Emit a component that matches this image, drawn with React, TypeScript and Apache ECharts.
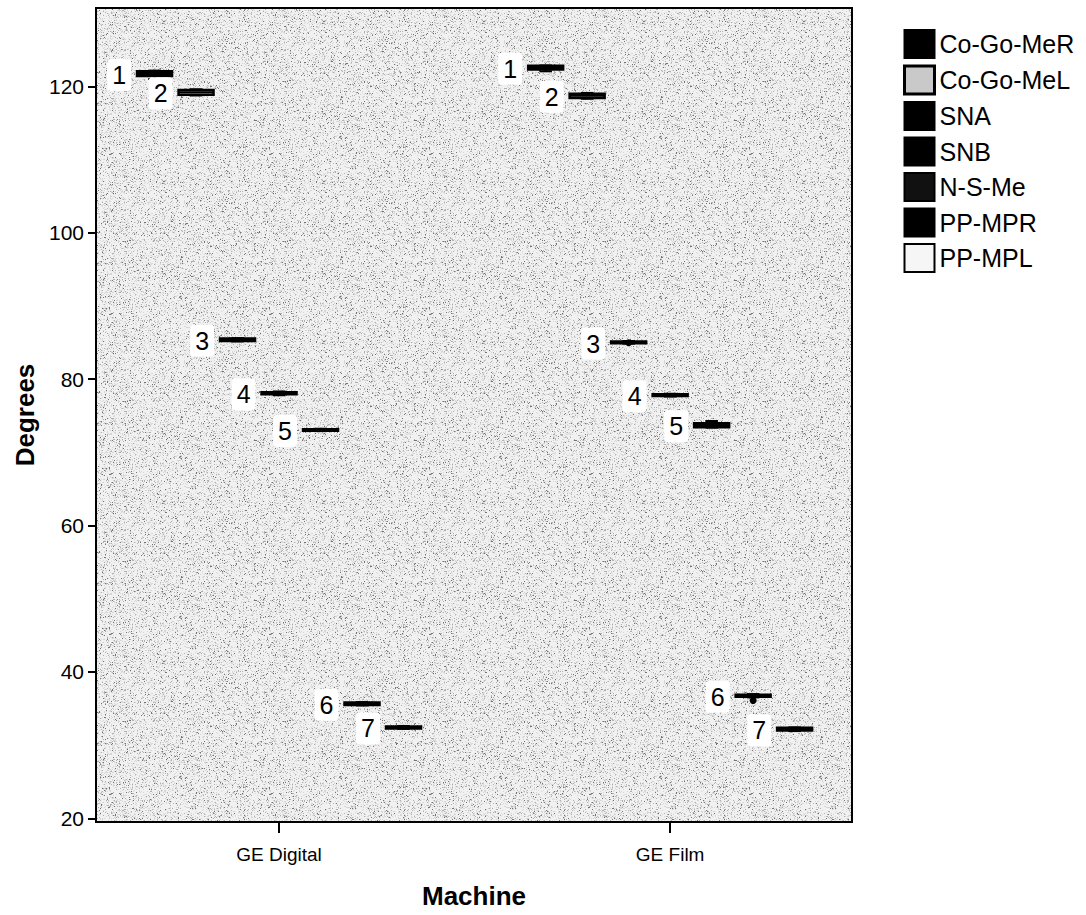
import React, { useEffect, useRef } from "react";
import * as echarts from "echarts";

// ---------- data ----------
const machines = ["GE Digital", "GE Film"];
const variables = ["Co-Go-MeR", "Co-Go-MeL", "SNA", "SNB", "N-S-Me", "PP-MPR", "PP-MPL"];
const yTicks = [20, 40, 60, 80, 100, 120];

// [min, Q1, median, Q3, max] per machine (GE Digital, GE Film)
const coGoMeR = [
  [121.0, 121.4, 121.7, 122.05, 122.15],
  [122.05, 122.3, 122.55, 122.8, 122.85],
];
const coGoMeL = [
  [118.75, 118.85, 119.2, 119.5, 119.6],
  [118.3, 118.4, 118.7, 119.0, 119.1],
];
const sna = [
  [85.15, 85.2, 85.37, 85.55, 85.6],
  [84.85, 84.9, 85.0, 85.15, 85.2],
];
const snb = [
  [77.8, 77.93, 78.05, 78.2, 78.32],
  [77.62, 77.68, 77.8, 77.95, 78.0],
];
const nsMe = [
  [72.9, 72.95, 73.05, 73.17, 73.22],
  [73.38, 73.42, 73.7, 73.98, 74.28],
];
const ppMpr = [
  [35.42, 35.48, 35.65, 35.82, 35.88],
  [36.52, 36.62, 36.75, 36.9, 36.97],
];
const ppMpl = [
  [32.22, 32.28, 32.42, 32.55, 32.62],
  [31.92, 32.0, 32.18, 32.36, 32.42],
];
const seriesValues = [coGoMeR, coGoMeL, sna, snb, nsMe, ppMpr, ppMpl];

// outliers: [variable index, machine index, value]
const outliers = [
  [2, 1, 84.98],
  [5, 1, 36.1],
];

// ---------- styles / layout ----------
const fills = ["#000000", "#c9c9c9", "#000000", "#000000", "#111111", "#000000", "#f6f6f6"];
const FONT = "'Liberation Sans', Arial, Helvetica, sans-serif";
const SPACING = 0.1061; // offset between boxes in x-axis units
const BOX_W = 0.0895; // box width in x-axis units

function makeNoise(size: number): string {
  const c = document.createElement("canvas");
  c.width = size;
  c.height = size;
  const ctx = c.getContext("2d");
  if (!ctx) return "";
  const img = ctx.createImageData(size, size);
  for (let i = 0; i < size * size; i++) {
    let h = Math.imul(i + 12345, 2654435761) >>> 0;
    h ^= h >>> 15;
    h = Math.imul(h, 2246822519) >>> 0;
    h ^= h >>> 13;
    h = Math.imul(h, 3266489917) >>> 0;
    h ^= h >>> 16;
    const r = (h & 0xffff) / 65536;
    let v = 241;
    if (r < 0.03) v = 115;
    else if (r < 0.11) v = 175;
    else if (r < 0.28) v = 214;
    img.data[i * 4] = v;
    img.data[i * 4 + 1] = v;
    img.data[i * 4 + 2] = v;
    img.data[i * 4 + 3] = 255;
  }
  ctx.putImageData(img, 0, 0);
  return c.toDataURL();
}

export default function App() {
  const ref = useRef<HTMLDivElement>(null);

  useEffect(() => {
    if (!ref.current) return;
    const chart = echarts.init(ref.current, undefined, { renderer: "svg" });
    const noise = makeNoise(160);

    const series = variables.map((name, si) => ({
      type: "custom",
      name,
      itemStyle: { color: fills[si], borderColor: "#000", borderWidth: 2 },
      data: seriesValues[si].map((v, mi) => [mi, ...v]),
      encode: { x: 0, y: [1, 2, 3, 4, 5] },
      renderItem: (params: any, api: any) => {
        const mi = api.value(0);
        const xc = mi + (si - 3) * SPACING;
        const pMin = api.coord([xc, api.value(1)]);
        const pQ1 = api.coord([xc, api.value(2)]);
        const pMed = api.coord([xc, api.value(3)]);
        const pQ3 = api.coord([xc, api.value(4)]);
        const pMax = api.coord([xc, api.value(5)]);
        const w = api.size([BOX_W, 0])[0];
        const cx = pMed[0];
        const left = cx - w / 2;
        const capW = w * 0.36;
        const lineStyle = { stroke: "#000", lineWidth: 2 };
        const children: any[] = [
          { type: "line", shape: { x1: cx, y1: pMin[1], x2: cx, y2: pMax[1] }, style: lineStyle },
          { type: "line", shape: { x1: cx - capW / 2, y1: pMin[1], x2: cx + capW / 2, y2: pMin[1] }, style: lineStyle },
          { type: "line", shape: { x1: cx - capW / 2, y1: pMax[1], x2: cx + capW / 2, y2: pMax[1] }, style: lineStyle },
          {
            type: "rect",
            shape: { x: left, y: pQ3[1], width: w, height: Math.max(pQ1[1] - pQ3[1], 1) },
            style: { fill: fills[si], stroke: "#000", lineWidth: 2.5 },
          },
          { type: "line", shape: { x1: left, y1: pMed[1], x2: left + w, y2: pMed[1] }, style: lineStyle },
        ];
        outliers
          .filter((o) => o[0] === si && o[1] === mi)
          .forEach((o) => {
            const p = api.coord([xc, o[2]]);
            children.push({ type: "circle", shape: { cx: p[0], cy: p[1], r: 3.5 }, style: { fill: "#000" } });
          });
        children.push({
          type: "text",
          x: left - 6,
          y: pMed[1] + 1,
          style: {
            text: String(si + 1),
            fill: "#000",
            font: `25px ${FONT}`,
            align: "right",
            verticalAlign: "middle",
            backgroundColor: "#ffffff",
            padding: [4, 5, 3, 5],
            borderRadius: 4,
          },
        });
        return { type: "group", children };
      },
    }));

    chart.setOption({
      animation: false,
      backgroundColor: "#ffffff",
      textStyle: { fontFamily: FONT },
      grid: {
        left: 96,
        top: 8,
        right: 234,
        bottom: 93,
        show: true,
        borderColor: "#000",
        borderWidth: 2,
        backgroundColor: noise
          ? { image: noise, repeat: "repeat", imageWidth: 160, imageHeight: 160 }
          : "#d8d8d8",
      },
      legend: {
        orient: "vertical",
        left: 903,
        top: 29,
        padding: 0,
        itemWidth: 30,
        itemHeight: 28,
        itemGap: 5.5,
        icon: "rect",
        textStyle: { fontSize: 25, lineHeight: 28, color: "#000", fontFamily: FONT },
        data: variables.map((name, i) => ({
          name,
          itemStyle: { color: fills[i], borderColor: "#000", borderWidth: i === 1 ? 3 : 2 },
        })),
      },
      xAxis: {
        type: "value",
        min: -0.468,
        max: 1.465,
        name: "Machine",
        nameLocation: "middle",
        nameGap: 61,
        nameTextStyle: { fontSize: 26, fontWeight: "bold", color: "#000", fontFamily: FONT },
        axisLine: { show: true, onZero: false, lineStyle: { color: "#000", width: 2 } },
        axisTick: { show: true, length: 11, lineStyle: { color: "#000", width: 2 }, customValues: [0, 1] },
        axisLabel: {
          customValues: [0, 1],
          formatter: (v: number) => machines[Math.round(v)] ?? "",
          fontSize: 19,
          color: "#000",
          margin: 23,
          fontFamily: FONT,
        },
        splitLine: { show: false },
      },
      yAxis: {
        type: "value",
        min: 19.5,
        max: 130.7,
        name: "Degrees",
        nameLocation: "middle",
        nameGap: 56,
        nameTextStyle: { fontSize: 26, fontWeight: "bold", color: "#000", fontFamily: FONT },
        axisLine: { show: true, onZero: false, lineStyle: { color: "#000", width: 2 } },
        axisTick: { show: true, length: 8, lineStyle: { color: "#000", width: 2 }, customValues: yTicks },
        axisLabel: { customValues: yTicks, fontSize: 21, color: "#000", margin: 12, fontFamily: FONT },
        splitLine: { show: false },
      },
      series,
    } as any);

    return () => chart.dispose();
  }, []);

  return (
    <div
      ref={ref}
      style={{ position: "absolute", left: 0, top: 0, width: 1086, height: 915 }}
    />
  );
}
